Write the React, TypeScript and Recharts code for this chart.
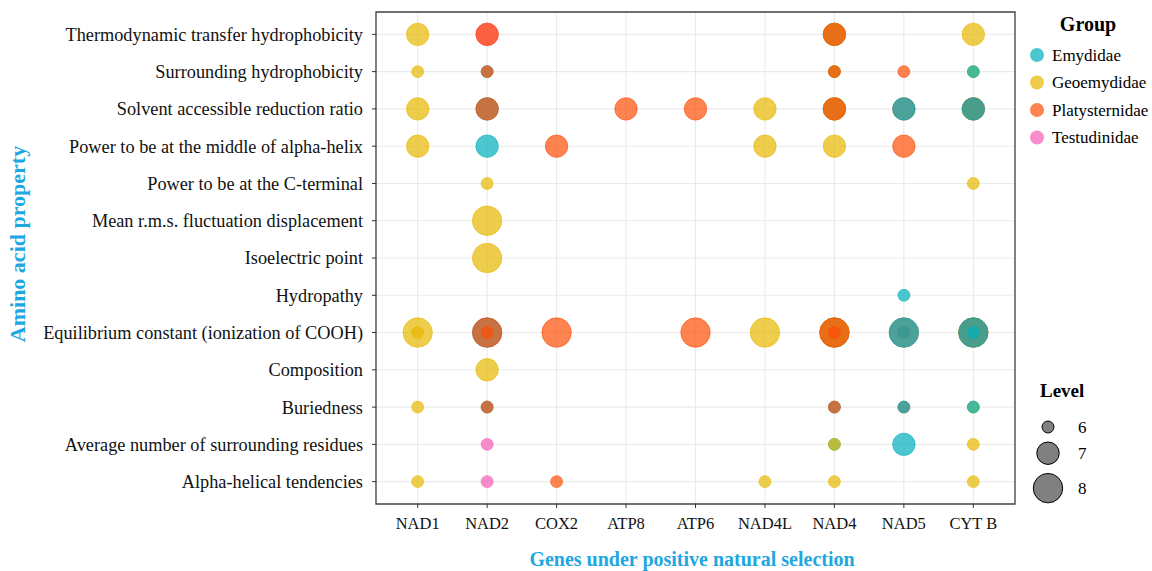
import React from "react";
import {
  ScatterChart,
  Scatter,
  XAxis,
  YAxis,
  CartesianGrid,
  ReferenceArea,
} from "recharts";

const genes = ["NAD1", "NAD2", "COX2", "ATP8", "ATP6", "NAD4L", "NAD4", "NAD5", "CYT B"];

const properties = [
  "Thermodynamic transfer hydrophobicity",
  "Surrounding hydrophobicity",
  "Solvent accessible reduction ratio",
  "Power to be at the middle of alpha-helix",
  "Power to be at the C-terminal",
  "Mean r.m.s. fluctuation displacement",
  "Isoelectric point",
  "Hydropathy",
  "Equilibrium constant (ionization of COOH)",
  "Composition",
  "Buriedness",
  "Average number of surrounding residues",
  "Alpha-helical tendencies",
];

const groups = ["Emydidae", "Geoemydidae", "Platysternidae", "Testudinidae"];
const groupColors = ["#00AFBB", "#E7B800", "#FC4E07", "#F55DB6"];
const levels = [6, 7, 8];

// [gene, property index, group, level] in drawing order (overlaps blend)
const observations: [string, number, string, number][] = [
  ["NAD1", 0, "Geoemydidae", 7],
  ["NAD2", 0, "Testudinidae", 7],
  ["NAD2", 0, "Platysternidae", 7],
  ["NAD4", 0, "Emydidae", 7],
  ["NAD4", 0, "Geoemydidae", 7],
  ["NAD4", 0, "Platysternidae", 7],
  ["CYT B", 0, "Geoemydidae", 7],

  ["NAD1", 1, "Geoemydidae", 6],
  ["NAD2", 1, "Emydidae", 6],
  ["NAD2", 1, "Platysternidae", 6],
  ["NAD4", 1, "Emydidae", 6],
  ["NAD4", 1, "Geoemydidae", 6],
  ["NAD4", 1, "Platysternidae", 6],
  ["NAD5", 1, "Platysternidae", 6],
  ["CYT B", 1, "Geoemydidae", 6],
  ["CYT B", 1, "Emydidae", 6],

  ["NAD1", 2, "Geoemydidae", 7],
  ["NAD2", 2, "Emydidae", 7],
  ["NAD2", 2, "Platysternidae", 7],
  ["ATP8", 2, "Platysternidae", 7],
  ["ATP6", 2, "Platysternidae", 7],
  ["NAD4L", 2, "Geoemydidae", 7],
  ["NAD4", 2, "Emydidae", 7],
  ["NAD4", 2, "Geoemydidae", 7],
  ["NAD4", 2, "Platysternidae", 7],
  ["NAD5", 2, "Platysternidae", 7],
  ["NAD5", 2, "Emydidae", 7],
  ["CYT B", 2, "Geoemydidae", 7],
  ["CYT B", 2, "Platysternidae", 7],
  ["CYT B", 2, "Emydidae", 7],

  ["NAD1", 3, "Geoemydidae", 7],
  ["NAD2", 3, "Emydidae", 7],
  ["COX2", 3, "Platysternidae", 7],
  ["NAD4L", 3, "Geoemydidae", 7],
  ["NAD4", 3, "Geoemydidae", 7],
  ["NAD5", 3, "Platysternidae", 7],

  ["NAD2", 4, "Geoemydidae", 6],
  ["CYT B", 4, "Geoemydidae", 6],

  ["NAD2", 5, "Geoemydidae", 8],
  ["NAD2", 6, "Geoemydidae", 8],
  ["NAD5", 7, "Emydidae", 6],

  ["NAD1", 8, "Geoemydidae", 8],
  ["NAD1", 8, "Geoemydidae", 6],
  ["NAD2", 8, "Emydidae", 8],
  ["NAD2", 8, "Platysternidae", 8],
  ["NAD2", 8, "Platysternidae", 6],
  ["COX2", 8, "Platysternidae", 8],
  ["ATP6", 8, "Platysternidae", 8],
  ["NAD4L", 8, "Geoemydidae", 8],
  ["NAD4", 8, "Emydidae", 8],
  ["NAD4", 8, "Geoemydidae", 8],
  ["NAD4", 8, "Platysternidae", 8],
  ["NAD4", 8, "Platysternidae", 6],
  ["NAD5", 8, "Platysternidae", 8],
  ["NAD5", 8, "Emydidae", 8],
  ["NAD5", 8, "Platysternidae", 6],
  ["NAD5", 8, "Emydidae", 6],
  ["CYT B", 8, "Geoemydidae", 8],
  ["CYT B", 8, "Platysternidae", 8],
  ["CYT B", 8, "Emydidae", 8],
  ["CYT B", 8, "Emydidae", 6],

  ["NAD2", 9, "Geoemydidae", 7],

  ["NAD1", 10, "Geoemydidae", 6],
  ["NAD2", 10, "Emydidae", 6],
  ["NAD2", 10, "Platysternidae", 6],
  ["NAD4", 10, "Emydidae", 6],
  ["NAD4", 10, "Platysternidae", 6],
  ["NAD5", 10, "Platysternidae", 6],
  ["NAD5", 10, "Emydidae", 6],
  ["CYT B", 10, "Geoemydidae", 6],
  ["CYT B", 10, "Emydidae", 6],

  ["NAD2", 11, "Testudinidae", 6],
  ["NAD4", 11, "Emydidae", 6],
  ["NAD4", 11, "Geoemydidae", 6],
  ["NAD5", 11, "Emydidae", 7],
  ["CYT B", 11, "Geoemydidae", 6],

  ["NAD1", 12, "Geoemydidae", 6],
  ["NAD2", 12, "Testudinidae", 6],
  ["COX2", 12, "Platysternidae", 6],
  ["NAD4L", 12, "Geoemydidae", 6],
  ["NAD4", 12, "Geoemydidae", 6],
  ["CYT B", 12, "Geoemydidae", 6],
];

// point area (px²) for the lowest and highest level
const sizeRange: [number, number] = [112, 680];
const font = '"Liberation Serif", "Times New Roman", serif';
const titleBlue = "#1EA7E1";

const data = observations.map(([gene, prop, group, level]) => ({
  x: genes.indexOf(gene),
  y: prop,
  z: level,
  group,
}));

const colorOf = (g: string) => groupColors[groups.indexOf(g)];

const levelRadius = (lv: number) => {
  const t = (lv - levels[0]) / (levels[levels.length - 1] - levels[0]);
  const area = sizeRange[0] + t * (sizeRange[1] - sizeRange[0]);
  return Math.sqrt(area / Math.PI);
};

const Bubble = (props: any) => {
  const { cx, cy, payload } = props;
  const c = colorOf(payload.group);
  return (
    <circle
      cx={cx}
      cy={cy}
      r={levelRadius(payload.z)}
      fill={c}
      fillOpacity={0.7}
      stroke={c}
      strokeOpacity={0.6}
      strokeWidth={1}
    />
  );
};

function Overlay() {
  let ly = 427 - levelRadius(levels[0]) - 9;
  const levelRows = levels.map((lv) => {
    const r = levelRadius(lv);
    ly += r + 9;
    const row = { lv, r, y: ly };
    ly += r;
    return row;
  });
  return (
    <svg
      width={1152}
      height={571}
      style={{ position: "absolute", left: 0, top: 0, pointerEvents: "none" }}
      fontFamily={font}
    >
      <text
        x={692}
        y={566}
        textAnchor="middle"
        fontSize={20}
        fontWeight="bold"
        fill={titleBlue}
      >
        Genes under positive natural selection
      </text>
      <text
        transform="translate(25,244) rotate(-90)"
        textAnchor="middle"
        fontSize={22}
        fontWeight="bold"
        fill={titleBlue}
      >
        Amino acid property
      </text>

      <text x={1088} y={31} textAnchor="middle" fontSize={20} fontWeight="bold" fill="#000">
        Group
      </text>
      {groups.map((g, i) => {
        const y = 55 + i * 27.5;
        return (
          <g key={g}>
            <circle cx={1037} cy={y} r={7} fill={groupColors[i]} fillOpacity={0.7} />
            <text x={1052} y={y} dominantBaseline="central" fontSize={17} fill="#000">
              {g}
            </text>
          </g>
        );
      })}

      <text x={1040} y={397} fontSize={19} fontWeight="bold" fill="#000">
        Level
      </text>
      {levelRows.map(({ lv, r, y }) => (
        <g key={lv}>
          <circle cx={1048} cy={y} r={r} fill="#808080" stroke="#000" strokeWidth={1} />
          <text x={1078} y={y} dominantBaseline="central" fontSize={17} fill="#000">
            {lv}
          </text>
        </g>
      ))}
    </svg>
  );
}

export default function App() {
  return (
    <div
      style={{
        position: "absolute",
        left: 0,
        top: 0,
        width: 1152,
        height: 571,
        background: "#fff",
      }}
    >
      <ScatterChart
        width={1152}
        height={571}
        margin={{ top: 12, right: 137, bottom: 0, left: 0 }}
      >
        <CartesianGrid stroke="#EBEBEB" strokeWidth={1.1} />
        <XAxis
          type="number"
          dataKey="x"
          domain={[-0.6, genes.length - 0.4]}
          ticks={genes.map((_, i) => i)}
          tickFormatter={(i: number) => genes[i]}
          interval={0}
          allowDataOverflow
          height={67}
          axisLine={false}
          tickLine={{ stroke: "#333" }}
          tickSize={4}
          tickMargin={9}
          tick={{ fontFamily: font, fontSize: 16.5, fill: "#111" }}
        />
        <YAxis
          type="number"
          dataKey="y"
          reversed
          domain={[-0.6, properties.length - 0.4]}
          ticks={properties.map((_, i) => i)}
          tickFormatter={(i: number) => properties[i]}
          interval={0}
          allowDataOverflow
          width={376}
          axisLine={false}
          tickLine={{ stroke: "#333" }}
          tickSize={4}
          tickMargin={9}
          tick={{ fontFamily: font, fontSize: 18.3, fill: "#111" }}
        />
        <ReferenceArea
          x1={-0.6}
          x2={genes.length - 0.4}
          y1={-0.6}
          y2={properties.length - 0.4}
          fill="none"
          stroke="#444"
          strokeWidth={1.3}
          ifOverflow="extendDomain"
        />
        <Scatter data={data} shape={Bubble} isAnimationActive={false} />
      </ScatterChart>
      <Overlay />
    </div>
  );
}
